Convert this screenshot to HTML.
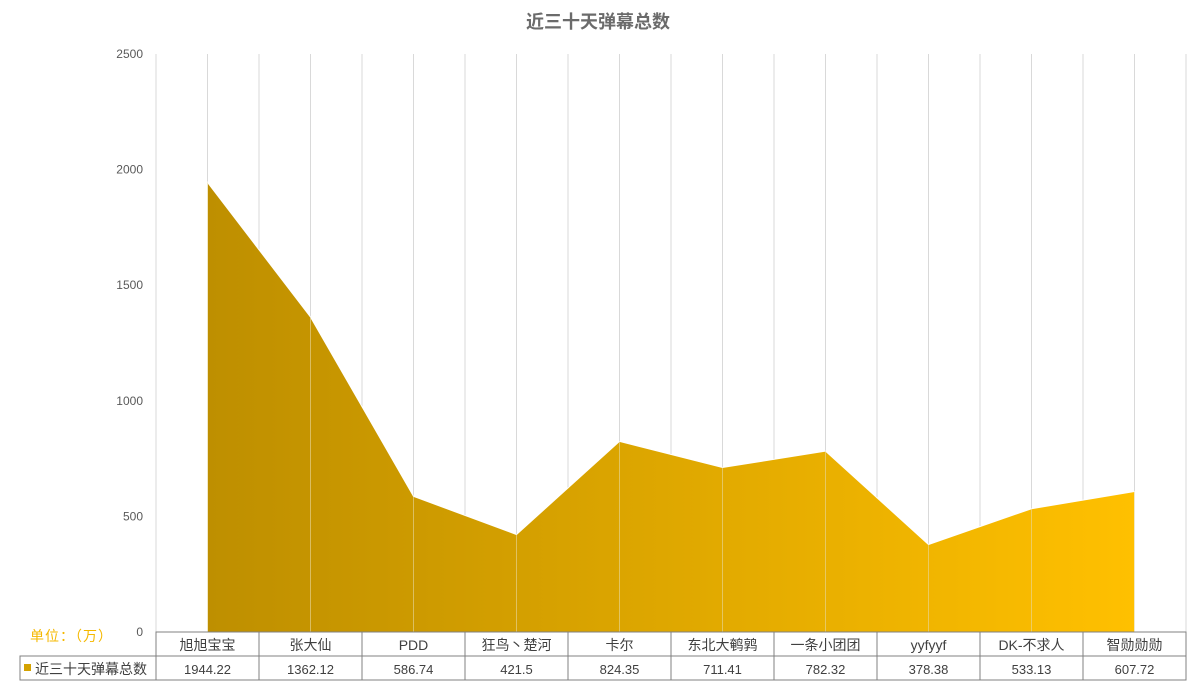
<!DOCTYPE html>
<html><head><meta charset="utf-8"><style>
body{margin:0;background:#fff;}
svg{display:block;font-family:"Liberation Sans","Noto Sans CJK SC",sans-serif;}
</style></head><body>
<svg width="1196" height="697">
<defs><linearGradient id="g" x1="0" x2="1" y1="0" y2="0"><stop offset="0" stop-color="#BE8F00"/><stop offset="1" stop-color="#FFC000"/></linearGradient></defs>
<text x="598" y="28" text-anchor="middle" font-size="18" font-weight="bold" fill="#6b6b6b">近三十天弹幕总数</text>
<g id="grid"></g><g id="area"></g><g id="yt"></g><g id="tbl"></g>
<text x="30" y="641" font-size="14" fill="#F5B800" textLength="82">单位：（万）</text>
</svg>
<script>
const categories=["旭旭宝宝","张大仙","PDD","狂鸟丶楚河","卡尔","东北大鹌鹑","一条小团团","yyfyyf","DK-不求人","智勋勋勋"];
const values=[1944.22,1362.12,586.74,421.5,824.35,711.41,782.32,378.38,533.13,607.72];
const labels=["1944.22","1362.12","586.74","421.5","824.35","711.41","782.32","378.38","533.13","607.72"];
const yTicks=[0,500,1000,1500,2000,2500];
const NS="http://www.w3.org/2000/svg";
const L=156,R=1186,T=54,B=632,cw=(R-L)/categories.length;
const x=i=>L+cw*(i+0.5), y=v=>B-(v/2500)*(B-T);
function mk(p,t,a){const e=document.createElementNS(NS,t);for(const k in a)e.setAttribute(k,a[k]);document.getElementById(p).appendChild(e);return e;}
for(let i=0;i<=categories.length;i++){const l=mk('grid','line',{x1:L+cw*i,x2:L+cw*i,y1:T,y2:B,stroke:'#d9d9d9'});

}
for(let i=0;i<categories.length;i++){const l=mk('grid','line',{x1:x(i),x2:x(i),y1:T,y2:B,stroke:'#d9d9d9'});

}
let d=`M${x(0)},${B}`;values.forEach((v,i)=>d+=` L${x(i)},${y(v)}`);d+=` L${x(values.length-1)},${B}Z`;
const a=mk('area','path',{d:d,fill:'url(#g)',stroke:'#fff','stroke-width':1});


values.forEach((v,i)=>{const l=mk('area','line',{x1:x(i),x2:x(i),y1:y(v),y2:B,stroke:'#e8d9a0','stroke-width':1,opacity:0.6});

});
yTicks.forEach(t=>{const e=mk('yt','text',{x:143,y:y(t)+4,'text-anchor':'end','font-size':12,fill:'#595959'});e.textContent=t;

});
mk('tbl','rect',{x:L,y:632,width:R-L,height:24,fill:'none',stroke:'#808080'});
mk('tbl','rect',{x:20,y:656,width:R-20,height:24,fill:'none',stroke:'#808080'});
mk('tbl','line',{x1:L,x2:L,y1:632,y2:680,stroke:'#808080'});
mk('tbl','rect',{x:24,y:664,width:7,height:7,fill:'#D4A200'});
const lg=mk('tbl','text',{x:35,y:674,'font-size':14,fill:'#404040'});lg.textContent='近三十天弹幕总数';


categories.forEach((c,i)=>{
 if(i>0)mk('tbl','line',{x1:L+cw*i,x2:L+cw*i,y1:632,y2:680,stroke:'#808080'});
 const t=mk('tbl','text',{x:x(i),y:650,'text-anchor':'middle','font-size':14,fill:'#404040'});t.textContent=c;
 
 
 const v=mk('tbl','text',{x:x(i),y:674,'text-anchor':'middle','font-size':13,fill:'#404040'});v.textContent=labels[i];
 
 
});
</script>
</body></html>
